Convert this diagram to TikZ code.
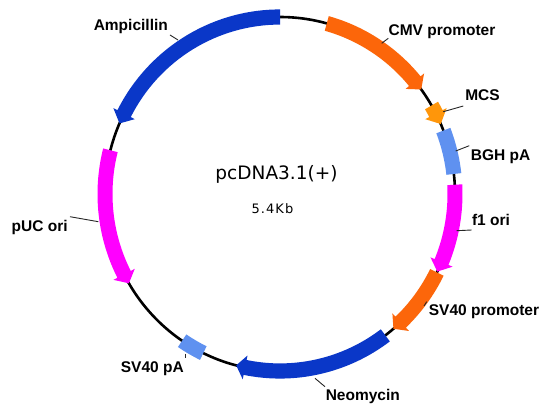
\documentclass[tikz,border=0pt]{standalone}
\usepackage{fontspec}
\setmainfont{Liberation Sans}
\newfontfamily\dejavu{DejaVu Sans}
\newfontfamily\dejavuwide[LetterSpace=8]{DejaVu Sans}
\definecolor{bandblue}{RGB}{10,55,200}
\definecolor{bandorange}{RGB}{252,102,10}
\definecolor{mcsorange}{RGB}{255,150,10}
\definecolor{bandmagenta}{RGB}{255,0,255}
\definecolor{lightblue}{RGB}{95,145,240}
\newcommand{\arrband}[4]{%
  \fill[#1] (#2:182.5) arc[start angle=#2, end angle=#3, radius=182.5]
    -- (#3:187) -- (#4:175) -- (#3:163) -- (#3:167.5)
    arc[start angle=#3, end angle=#2, radius=167.5] -- cycle;}
\newcommand{\boxband}[3]{%
  \fill[#1] (#2:182.5) arc[start angle=#2, end angle=#3, radius=182.5]
    -- (#3:167.5) arc[start angle=#3, end angle=#2, radius=167.5] -- cycle;}
\begin{document}
\begin{tikzpicture}[x=1pt,y=1pt,
  lab/.style={font=\bfseries\fontsize{15.5}{18}\selectfont, inner sep=0pt},
  leader/.style={draw=black!85, line width=0.9pt}]
\useasboundingbox (0,0) rectangle (550,-417);
\fill[white] (0,0) rectangle (550,-417);
\begin{scope}[shift={(280,-194)}, yscale=1.0114]
  \draw[line width=2.6pt] (0,0) circle[radius=175];
  \arrband{bandblue}{90}{153}{156.5}
  \arrband{bandorange}{74.5}{39.6}{36.2}
  \arrband{mcsorange}{30}{27}{23.3}
  \boxband{lightblue}{21}{6.5}
  \arrband{bandmagenta}{3}{-22.6}{-26}
  \arrband{bandorange}{-26.3}{-46.4}{-49.6}
  \arrband{bandblue}{-53}{-101.5}{-104.5}
  \boxband{lightblue}{236}{244}
  \arrband{bandmagenta}{165.7}{207}{210.3}
\end{scope}
% labels
\node[lab] (amp) at (130.8,-26.7) {Ampicillin};
\node[lab] (cmv) at (442,-31.7) {CMV promoter};
\node[lab] (mcs) at (482.5,-95.5) {MCS};
\node[lab] (bgh) at (500.7,-156.7) {BGH pA};
\node[lab] (f1) at (491,-220) {f1 ori};
\node[lab] (svp) at (484,-311.7) {SV40 promoter};
\node[lab] (neo) at (362.8,-396) {Neomycin};
\node[lab] (svpa) at (152.3,-369) {SV40 pA};
\node[lab] (puc) at (39.7,-227.5) {pUC ori};
\node[font=\dejavu\fontsize{18.5}{20}\selectfont, inner sep=0pt, anchor=base] (title) at (276.5,-180) {pcDNA3.1(+)};
\node[font=\dejavuwide\fontsize{13}{15}\selectfont, inner sep=0pt, anchor=base] (size) at (272.5,-214) {5.4Kb};
% leader coordinates
\coordinate (ampA) at (178,-40); \coordinate (ampB) at (170,-35);
\coordinate (cmvA) at (381.7,-43.3); \coordinate (cmvB) at (388.3,-38.3);
\coordinate (mcsA) at (443.3,-111.7); \coordinate (mcsB) at (463.3,-106);
\coordinate (bghA) at (455.7,-151); \coordinate (bghB) at (469.3,-145.7);
\coordinate (f1A) at (456.7,-230.7); \coordinate (f1B) at (471.7,-230);
\coordinate (svpA) at (424,-306); \coordinate (svpB) at (426.7,-301.7);
\coordinate (neoA) at (315,-378.3); \coordinate (neoB) at (325,-386.7);
\coordinate (svpaA) at (185,-354); \coordinate (svpaB) at (185,-358);
\coordinate (pucA) at (98.3,-221.7); \coordinate (pucB) at (70,-216.7);
\foreach \n in {amp,cmv,mcs,bgh,f1,svp,neo,svpa,puc}
  \draw[leader] (\n A) -- (\n B);
\end{tikzpicture}
\end{document}
